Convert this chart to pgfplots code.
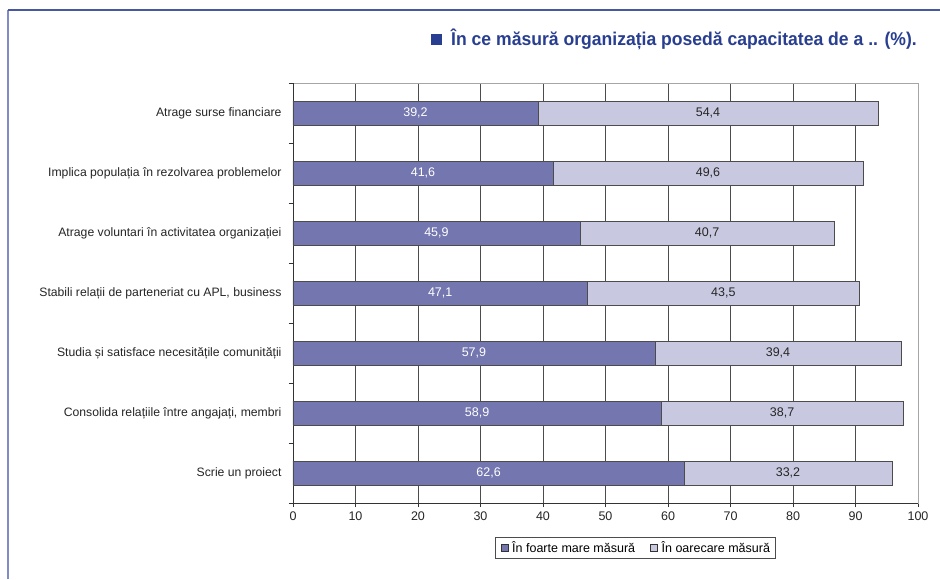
\documentclass[border=0pt]{standalone}
\usepackage{pgfplots}
\usepackage{pgfplotstable}
\pgfplotsset{compat=1.18}
\usepackage{fontspec}
\setmainfont{Liberation Sans}

\definecolor{barDark}{RGB}{116,118,176}
\definecolor{barLight}{RGB}{200,200,224}
\definecolor{titleBlue}{RGB}{40,62,145}
\definecolor{frameBlue}{RGB}{128,140,200}
\definecolor{frameTop}{RGB}{70,88,160}

% idx: 0 = top category
\pgfplotstableread{
idx a b
0 39.2 54.4
1 41.6 49.6
2 45.9 40.7
3 47.1 43.5
4 57.9 39.4
5 58.9 38.7
6 62.6 33.2
}\capdata

\begin{document}
\begin{tikzpicture}
\useasboundingbox (0pt,0pt) rectangle (940pt,579pt);
\fill[white] (0pt,0pt) rectangle (940pt,579pt);
\draw[frameBlue, line width=2pt] (8pt,0pt) -- (8pt,569pt);
\draw[frameTop, line width=1.5pt] (8pt,569pt) -- (940pt,569pt);

\node[anchor=east, inner sep=0pt] at (917pt,540pt)
  {\textcolor{titleBlue}{\rule{11pt}{11pt}\hspace{9pt}\scalebox{0.95}[1]{\fontsize{18.5}{21}\selectfont\bfseries În ce măsură organizația posedă capacitatea de a .. (\%).}}};

\begin{axis}[
  at={(293pt,76pt)}, anchor=south west,
  scale only axis, width=625pt, height=420pt,
  xmin=0, xmax=100, ymin=-0.5, ymax=6.5, y dir=reverse,
  xbar stacked, bar width=24pt,
  xtick={0,10,...,100},
  ytick={0,...,6},
  yticklabels={Atrage surse financiare,
    Implica populația în rezolvarea problemelor,
    Atrage voluntari în activitatea organizației,
    {Stabili relații de parteneriat cu APL, business},
    Studia și satisface necesitățile comunității,
    {Consolida relațiile între angajați, membri},
    Scrie un proiect},
  minor ytick={-0.5,0.5,...,6.5},
  tick align=outside, xtick pos=bottom, ytick pos=left,
  major tick length=4pt, minor tick length=4pt,
  ytick style={draw=none},
  minor y tick style={draw=black!80},
  xtick style={draw=black!80},
  xmajorgrids, major grid style={black!70, line width=0.6pt},
  axis line style={black!35},
  /pgf/number format/assume math mode=true,
  tick label style={font=\fontsize{12.5}{14}\selectfont, text=black!85},
  xticklabel style={yshift=-1pt},
  yticklabel style={font=\fontsize{12.2}{14}\selectfont, xshift=-4pt},
  legend style={at={(0.547,-0.106)}, anchor=center, legend columns=2,
    draw=black!70, font=\fontsize{12.5}{14}\selectfont, inner xsep=3pt, inner ysep=2.5pt,
    /tikz/every even column/.append style={column sep=10pt}},
  legend image code/.code={\path (-3pt,0pt); \draw[#1, draw=black!80] (0pt,-3.5pt) rectangle (7pt,3.5pt);},
]
\addplot[fill=barDark, draw=black!70] table[x=a, y=idx] {\capdata};
\addplot[fill=barLight, draw=black!70] table[x=b, y=idx] {\capdata};
\legend{\,În foarte mare măsură, \,În oarecare măsură}
\draw[black!80, line width=0.8pt] (axis description cs:0,1) -- (axis description cs:0,0) -- (axis description cs:1,0);
\end{axis}

% value labels centred in each segment
\begin{axis}[
  at={(293pt,76pt)}, anchor=south west,
  scale only axis, width=625pt, height=420pt,
  xmin=0, xmax=100, ymin=-0.5, ymax=6.5, y dir=reverse,
  hide axis,
  /pgf/number format/.cd, fixed, fixed zerofill, precision=1, use comma, assume math mode=true,
]
\addplot[draw=none, mark=none, nodes near coords, point meta=explicit,
  nodes near coords style={anchor=center, text=white, font=\fontsize{12.5}{14}\selectfont}]
  table[x expr=\thisrow{a}/2, y=idx, meta=a] {\capdata};
\addplot[draw=none, mark=none, nodes near coords, point meta=explicit,
  nodes near coords style={anchor=center, text=black!85, font=\fontsize{12.5}{14}\selectfont}]
  table[x expr=\thisrow{a}+\thisrow{b}/2, y=idx, meta=b] {\capdata};
\end{axis}
\end{tikzpicture}
\end{document}
